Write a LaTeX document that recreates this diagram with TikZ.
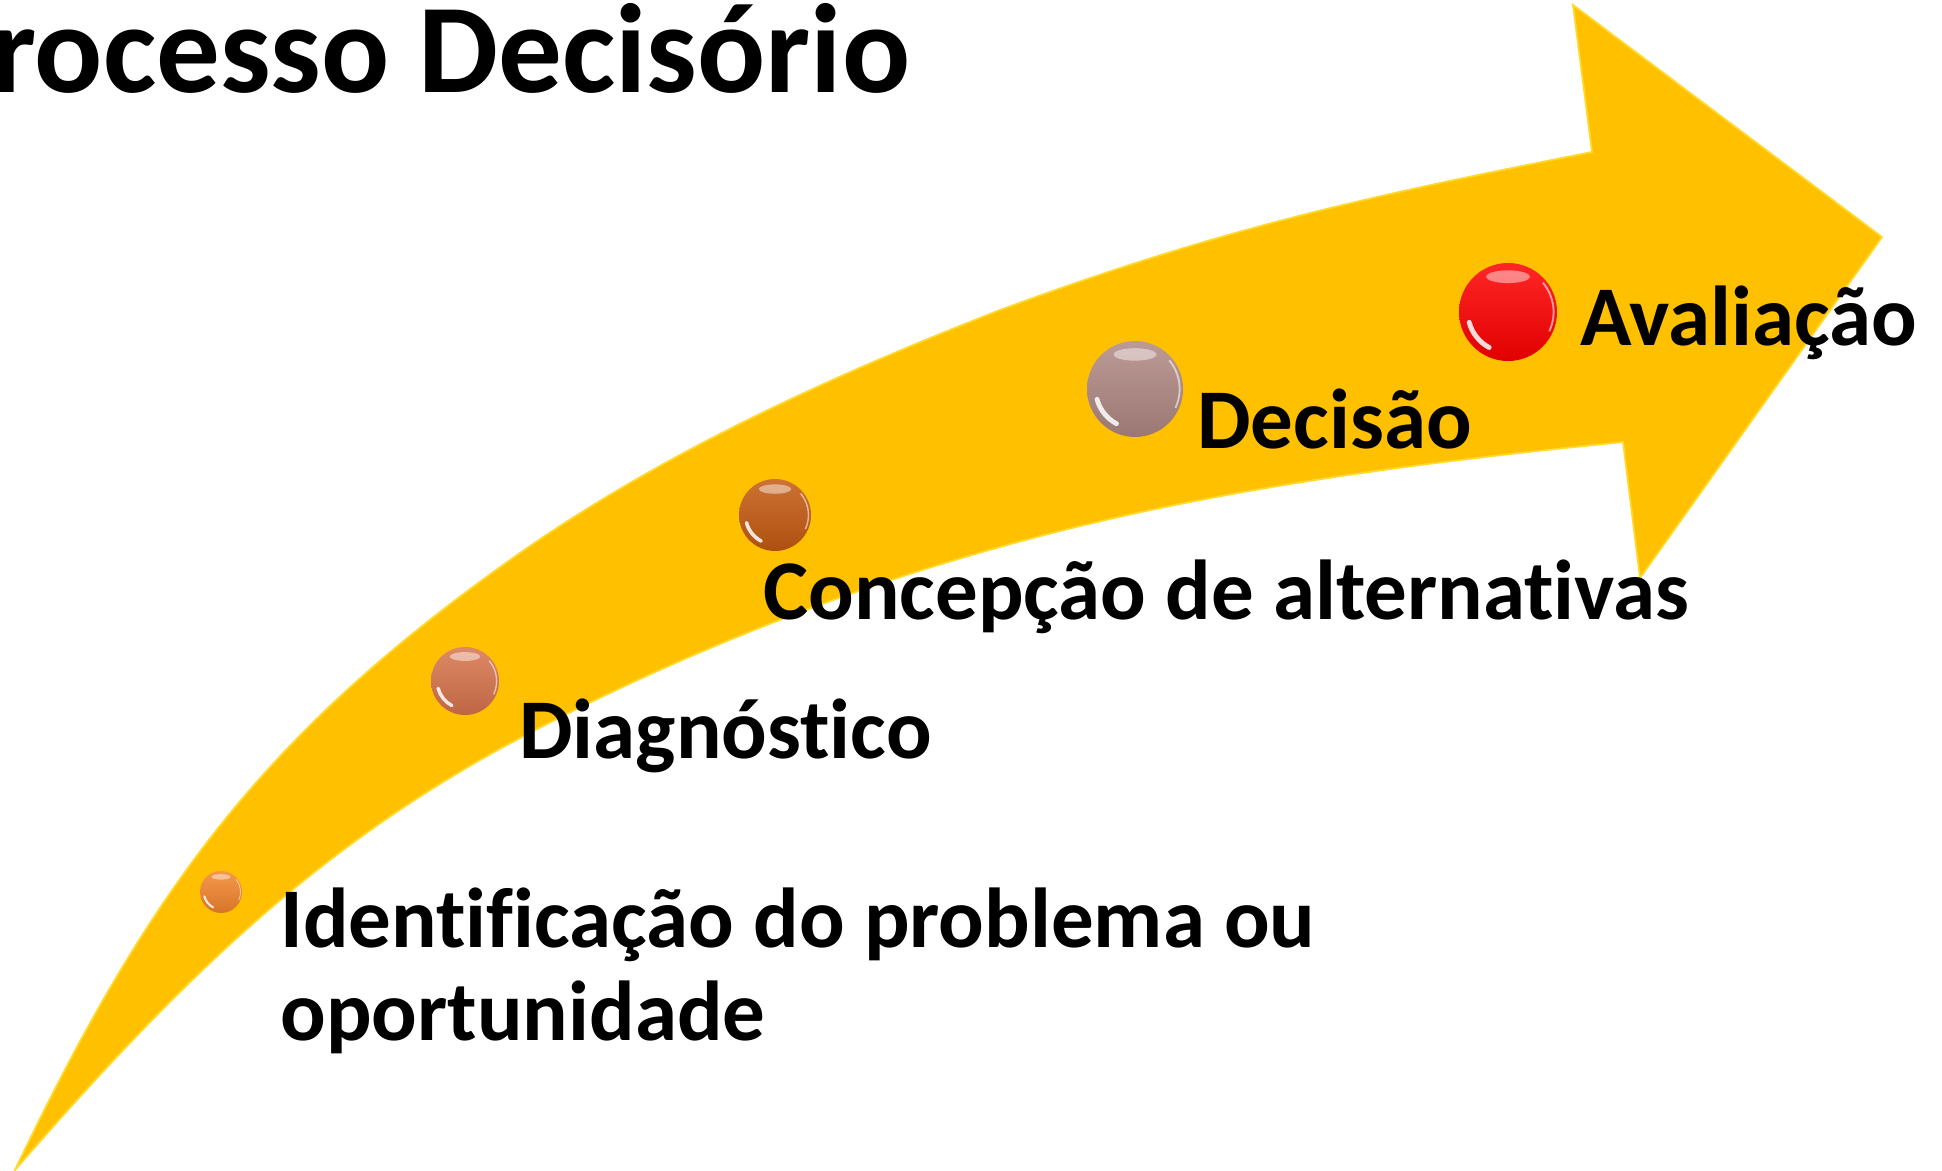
\documentclass[tikz,border=0pt]{standalone}
\usepackage{fontspec}
\setmainfont{Carlito}[Ligatures={NoCommon,NoContextual}]
\definecolor{arrowfill}{HTML}{FFC000}
\definecolor{arrowedge}{HTML}{FFDA2E}
\definecolor{c1}{RGB}{243,133,45}
\definecolor{c2}{RGB}{216,116,76}
\definecolor{c3}{RGB}{197,90,17}
\definecolor{c4}{RGB}{176,136,131}
\definecolor{c5}{RGB}{255,0,0}
\newcommand\glossball[5]{%
  \node[ballnode, minimum size=#4pt, top color=#5!85!white, bottom color=#5!88!black] (#1) at (#2,#3) {};
  \fill[white, opacity=.45] (#2,#3-0.72*#4) ellipse [x radius=0.45*#4, y radius=0.13*#4];
  \draw[white, opacity=.85, line width=0.05*#4 pt, line cap=round] (#2,#3) ++(118:0.82*#4) arc[start angle=118, end angle=165, radius=0.82*#4];
  \draw[white, opacity=.55, line width=0.02*#4 pt] (#2,#3) ++(-40:0.93*#4) arc[start angle=-40, end angle=25, radius=0.93*#4];
}
\begin{document}
\begin{tikzpicture}[x=0.5pt, y=-0.5pt,
  ballnode/.style={circle, inner sep=0pt, draw=none},
  lab/.style={anchor=base west, inner sep=0pt, align=left, text=black,
    font=\fontsize{42.5}{46.5}\selectfont\bfseries},
  arrowshape/.style={fill=arrowfill, draw=arrowedge, line width=0.9pt, line join=miter}]
\useasboundingbox (0,0) rectangle (1942,1171);
\path[arrowshape]
  (15,1170) .. controls (150,887) and (265,734) .. (510,560)
  .. controls (659,454) and (829,377) .. (1000,310)
  .. controls (1225,227) and (1370,196) .. (1592,152)
  -- (1573,5) -- (1882,237) -- (1640,578) -- (1623,442)
  .. controls (1414,463) and (1202,490) .. (1000,547)
  .. controls (834,593) and (672,658) .. (520,738)
  .. controls (324,842) and (186,973) .. (15,1170)
  -- cycle;
\glossball{b1}{221}{892}{21}{c1}
\glossball{b2}{465}{681}{34}{c2}
\glossball{b3}{775}{515}{36}{c3}
\glossball{b4}{1135}{389}{48}{c4}
\glossball{b5}{1508}{312}{49}{c5}
\node[anchor=base west, inner sep=0pt, font=\fontsize{63.5}{70}\selectfont\bfseries] (title) at (-9,93) {rocesso Decisório};
\node[lab] (l1) at (280,1040) {Identificação do problema ou\\oportunidade};
\node[lab] (l2) at (519,758) {Diagnóstico};
\node[lab] (l3) at (763,619) {Concepção de alternativas};
\node[lab] (l4) at (1197,448) {Decisão};
\node[lab] (l5) at (1580,346) {Avaliação};
\end{tikzpicture}
\end{document}
